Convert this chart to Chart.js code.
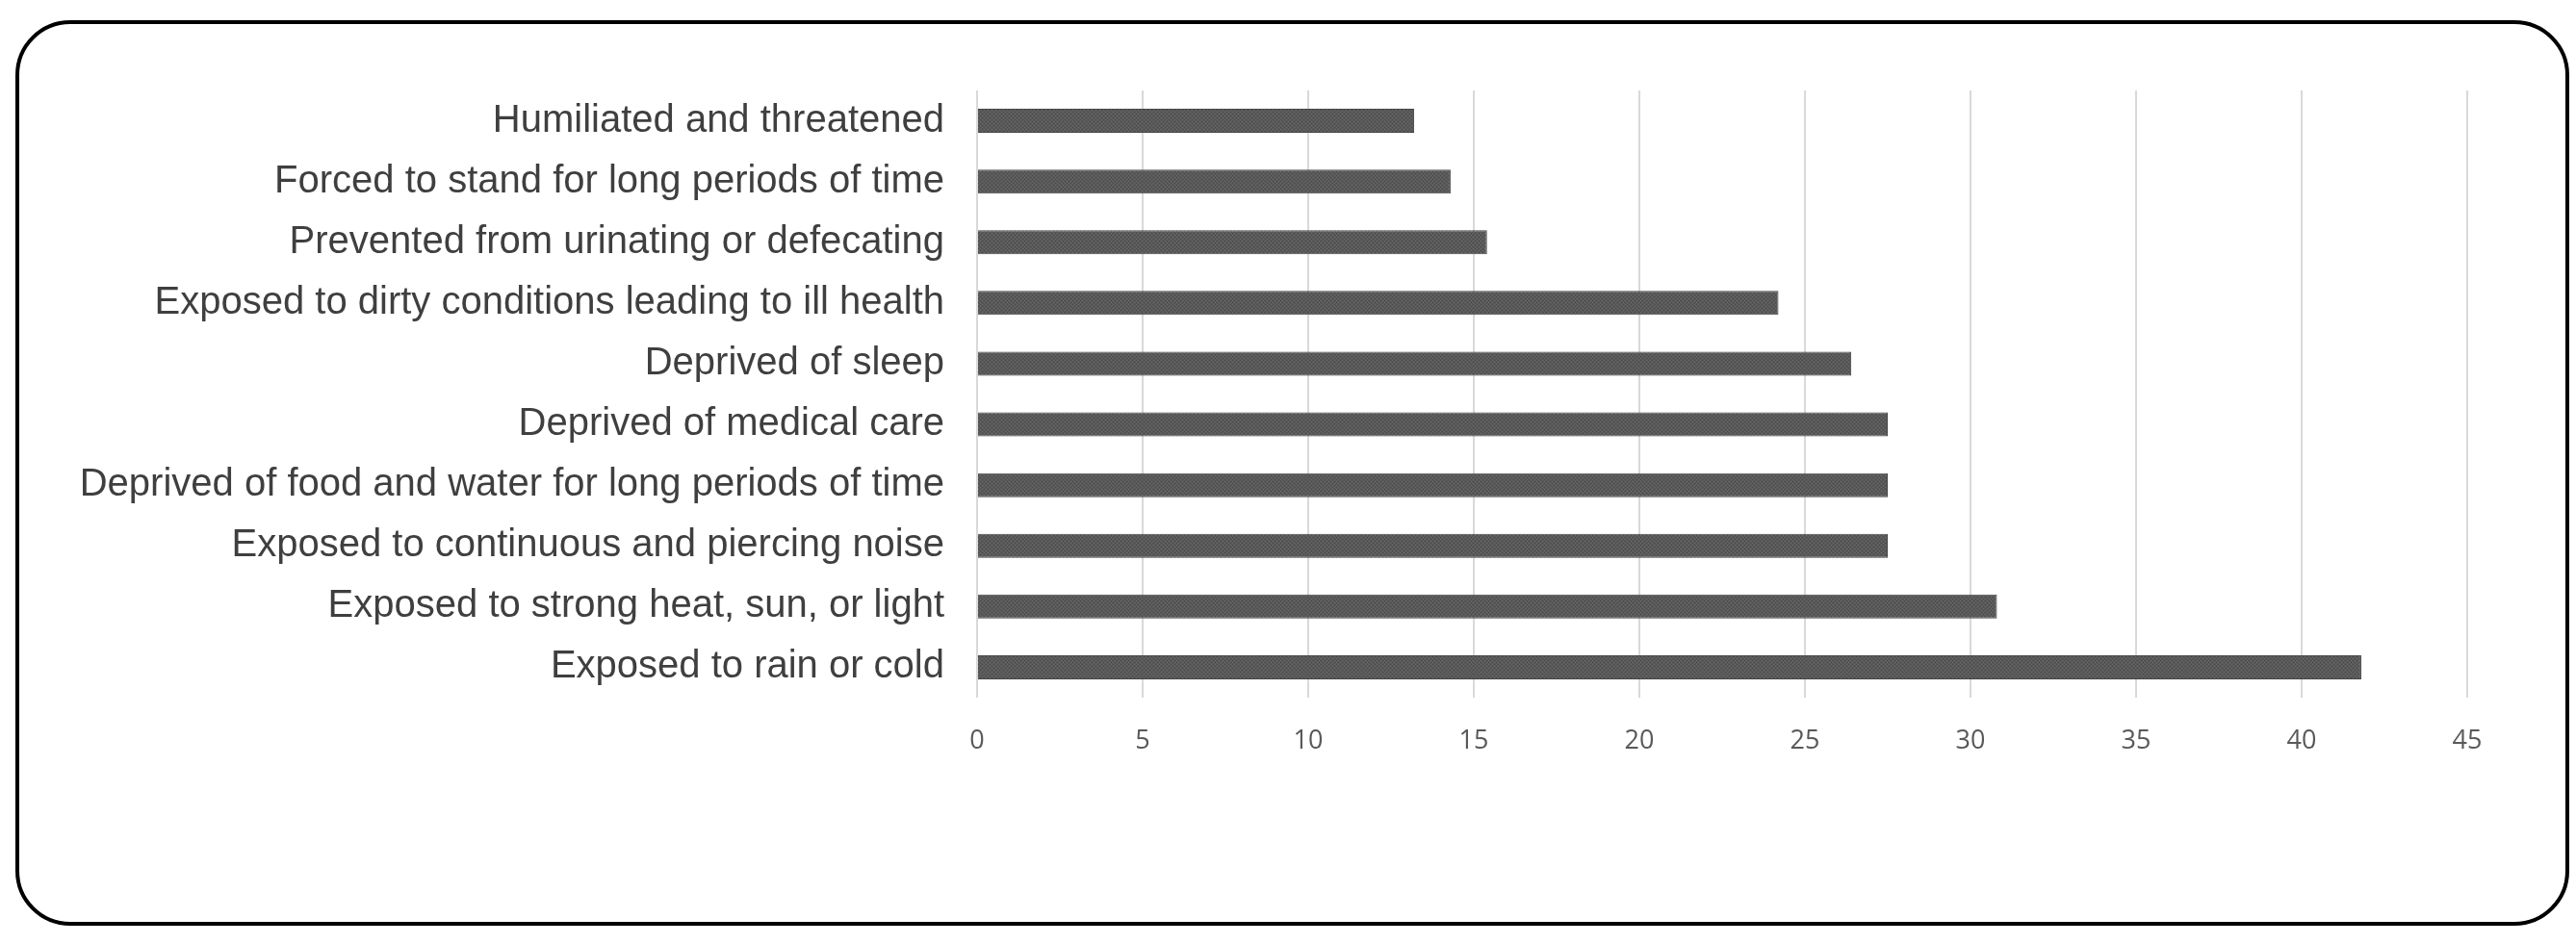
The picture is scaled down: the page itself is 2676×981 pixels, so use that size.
<!DOCTYPE html>
<html>
<head>
<meta charset="utf-8">
<script src="https://cdn.jsdelivr.net/npm/chart.js@4.4.1/dist/chart.umd.min.js"></script>
<style>
  html, body { margin: 0; padding: 0; background: #ffffff; }
  #wrap { width: 2676px; height: 981px; position: relative; }
</style>
</head>
<body>
<div id="wrap"><canvas id="chart" width="2676" height="981"></canvas></div>
<script>
// Catégories, de haut en bas comme sur la figure
const categories = [
  "Humiliated and threatened",
  "Forced to stand for long periods of time",
  "Prevented from urinating or defecating",
  "Exposed to dirty conditions leading to ill health",
  "Deprived of sleep",
  "Deprived of medical care",
  "Deprived of food and water for long periods of time",
  "Exposed to continuous and piercing noise",
  "Exposed to strong heat, sun, or light",
  "Exposed to rain or cold",
];
const values = [13.2, 14.3, 15.4, 24.2, 26.4, 27.5, 27.5, 27.5, 30.8, 41.8];
const xMin = 0;
const xMax = 45;
const xStep = 5;

// Petit motif pointillé pour imiter la texture des barres
function makeBarPattern() {
  const c = document.createElement("canvas");
  c.width = 4; c.height = 4;
  const g = c.getContext("2d");
  g.fillStyle = "#595959";
  g.fillRect(0, 0, 4, 4);
  g.fillStyle = "#6a6a6a";
  g.fillRect(0, 0, 1, 1); g.fillRect(2, 2, 1, 1);
  g.fillStyle = "#4a4a4a";
  g.fillRect(2, 0, 1, 1); g.fillRect(0, 2, 1, 1);
  return g.createPattern(c, "repeat");
}

// Cadre arrondi autour de la figure
const frame = {
  id: "frame",
  afterDraw(chart) {
    const ctx = chart.ctx;
    const x = 18, y = 23, w = 2667 - 18, h = 960 - 23, r = 55;
    ctx.save();
    ctx.strokeStyle = "#000000";
    ctx.lineWidth = 4;
    ctx.beginPath();
    ctx.roundRect(x, y, w, h, r);
    ctx.stroke();
    ctx.restore();
  },
};

new Chart(document.getElementById("chart"), {
  type: "bar",
  data: {
    labels: categories,
    datasets: [{
      data: values,
      backgroundColor: makeBarPattern(),
      borderColor: "#454545",
      borderWidth: 1,
      categoryPercentage: 1,
      barPercentage: 0.396,
    }],
  },
  options: {
    indexAxis: "y",
    responsive: false,
    animation: false,
    layout: { padding: { top: 94, right: 113, bottom: 0, left: 0 } },
    plugins: { legend: { display: false }, tooltip: { enabled: false } },
    scales: {
      x: {
        min: xMin,
        max: xMax,
        ticks: {
          stepSize: xStep,
          padding: 29,
          color: "#595959",
          font: { family: "'Liberation Sans Narrow', 'Open Sans', sans-serif", size: 27 },
        },
        grid: { color: "#d9d9d9", lineWidth: 2, drawTicks: false },
        border: { display: false },
        afterFit: (s) => { s.height = 981 - 725; },
      },
      y: {
        ticks: {
          padding: 34,
          color: "#3f3f3f",
          font: { family: "'Liberation Sans', Arial, sans-serif", size: 40 },
        },
        grid: { display: false, drawTicks: false },
        border: { display: false },
        afterFit: (s) => { s.width = 1015; },
      },
    },
  },
  plugins: [frame],
});
</script>
</body>
</html>
